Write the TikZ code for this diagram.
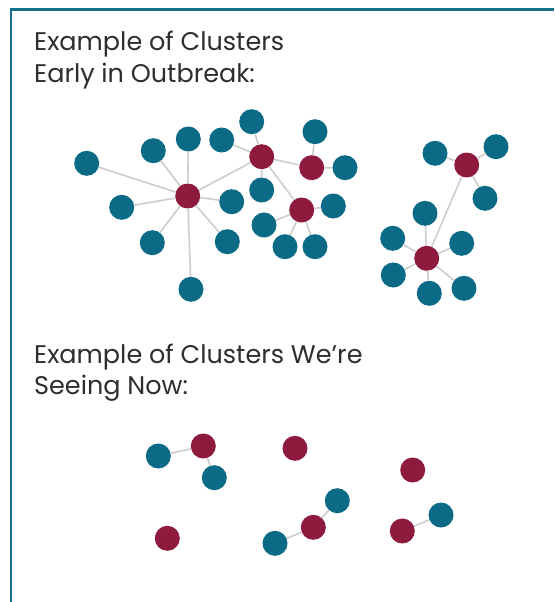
\documentclass[tikz,border=0pt]{standalone}
\usepackage{fontspec}
\setmainfont{Poppins}
\begin{document}
\begin{tikzpicture}[x=1pt,y=-1pt,
  teal/.style={circle,fill=tealc,inner sep=0pt,minimum size=25pt},
  red/.style={circle,fill=redc,inner sep=0pt,minimum size=25pt},
  link/.style={draw=linkc,line width=1.6pt},
  heading/.style={anchor=base west,inner sep=0pt,text=textc,font=\fontsize{25.5}{30}\selectfont}]
\definecolor{tealc}{HTML}{0B6A85}
\definecolor{redc}{HTML}{8E1B3E}
\definecolor{linkc}{HTML}{CDCDCD}
\definecolor{textc}{HTML}{2E2E2E}
\definecolor{framec}{HTML}{17718A}
\useasboundingbox (0,0) rectangle (554,602);
\fill[white] (0,0) rectangle (554,602);
% frame
\draw[framec,line width=2.2pt] (11,602) -- (11,9.5) -- (554,9.5);

% headings
\node[heading] (h1a) at (34,51) {Example of Clusters};
\node[heading] (h1b) at (34,82) {Early in Outbreak:};
\node[heading] (h2a) at (34,363) {Example of Clusters We’re};
\node[heading] (h2b) at (34,394) {Seeing Now:};

% early clusters: nodes
\node[red]  (A) at (187.7,196) {};
\node[red]  (B) at (261.7,156.7) {};
\node[red]  (C) at (311.7,167.7) {};
\node[red]  (D) at (301.7,210) {};
\node[teal] (t1) at (86.7,163.3) {};
\node[teal] (t2) at (153.3,150.7) {};
\node[teal] (t3) at (188.3,139) {};
\node[teal] (t4) at (221.7,140) {};
\node[teal] (t5) at (121.7,207.3) {};
\node[teal] (t6) at (152.3,242.7) {};
\node[teal] (t7) at (191,289.3) {};
\node[teal] (t8) at (227.3,241.7) {};
\node[teal] (t9) at (231.7,201.7) {};
\node[teal] (t10) at (251.7,121.7) {};
\node[teal] (t11) at (261.7,190) {};
\node[teal] (t12) at (315,131.7) {};
\node[teal] (t13) at (345,167.7) {};
\node[teal] (t14) at (333.3,206) {};
\node[teal] (t15) at (264,225) {};
\node[teal] (t16) at (285,246.7) {};
\node[teal] (t17) at (315,246.7) {};
\node[red]  (E) at (466.7,165) {};
\node[red]  (F) at (426.7,258.3) {};
\node[teal] (t18) at (435,153.3) {};
\node[teal] (t19) at (496,146.7) {};
\node[teal] (t20) at (485,198.3) {};
\node[teal] (t21) at (425,213.3) {};
\node[teal] (t22) at (392.7,238.3) {};
\node[teal] (t23) at (461.7,243.3) {};
\node[teal] (t24) at (393.3,275) {};
\node[teal] (t25) at (429.3,293.3) {};
\node[teal] (t26) at (464,288.3) {};

% current clusters: nodes
\node[teal] (u1) at (158.3,456) {};
\node[red]  (r1) at (203.3,446) {};
\node[teal] (u2) at (214.3,477.7) {};
\node[red]  (r2) at (295,448.3) {};
\node[red]  (r3) at (412.7,470) {};
\node[teal] (u3) at (337.3,500.7) {};
\node[red]  (r4) at (313.3,527.3) {};
\node[teal] (u4) at (275,543.3) {};
\node[red]  (r5) at (167.3,538.3) {};
\node[teal] (u5) at (441,515) {};
\node[red]  (r6) at (402.3,531) {};

% links between the circles
\path[link]
  (A) -- (t1) (A) -- (t2) (A) -- (t3) (A) -- (t5) (A) -- (t6)
  (A) -- (t7) (A) -- (t8) (A) -- (t9) (A) -- (B)
  (B) -- (t4) (B) -- (t10) (B) -- (t11) (B) -- (C) (B) -- (D)
  (C) -- (t12) (C) -- (t13)
  (D) -- (t14) (D) -- (t15) (D) -- (t16) (D) -- (t17)
  (E) -- (t18) (E) -- (t19) (E) -- (t20) (E) -- (F)
  (F) -- (t21) (F) -- (t22) (F) -- (t23) (F) -- (t24) (F) -- (t25) (F) -- (t26)
  (u1) -- (r1) (r1) -- (u2) (r4) -- (u3) (r4) -- (u4) (r6) -- (u5);
\end{tikzpicture}
\end{document}
